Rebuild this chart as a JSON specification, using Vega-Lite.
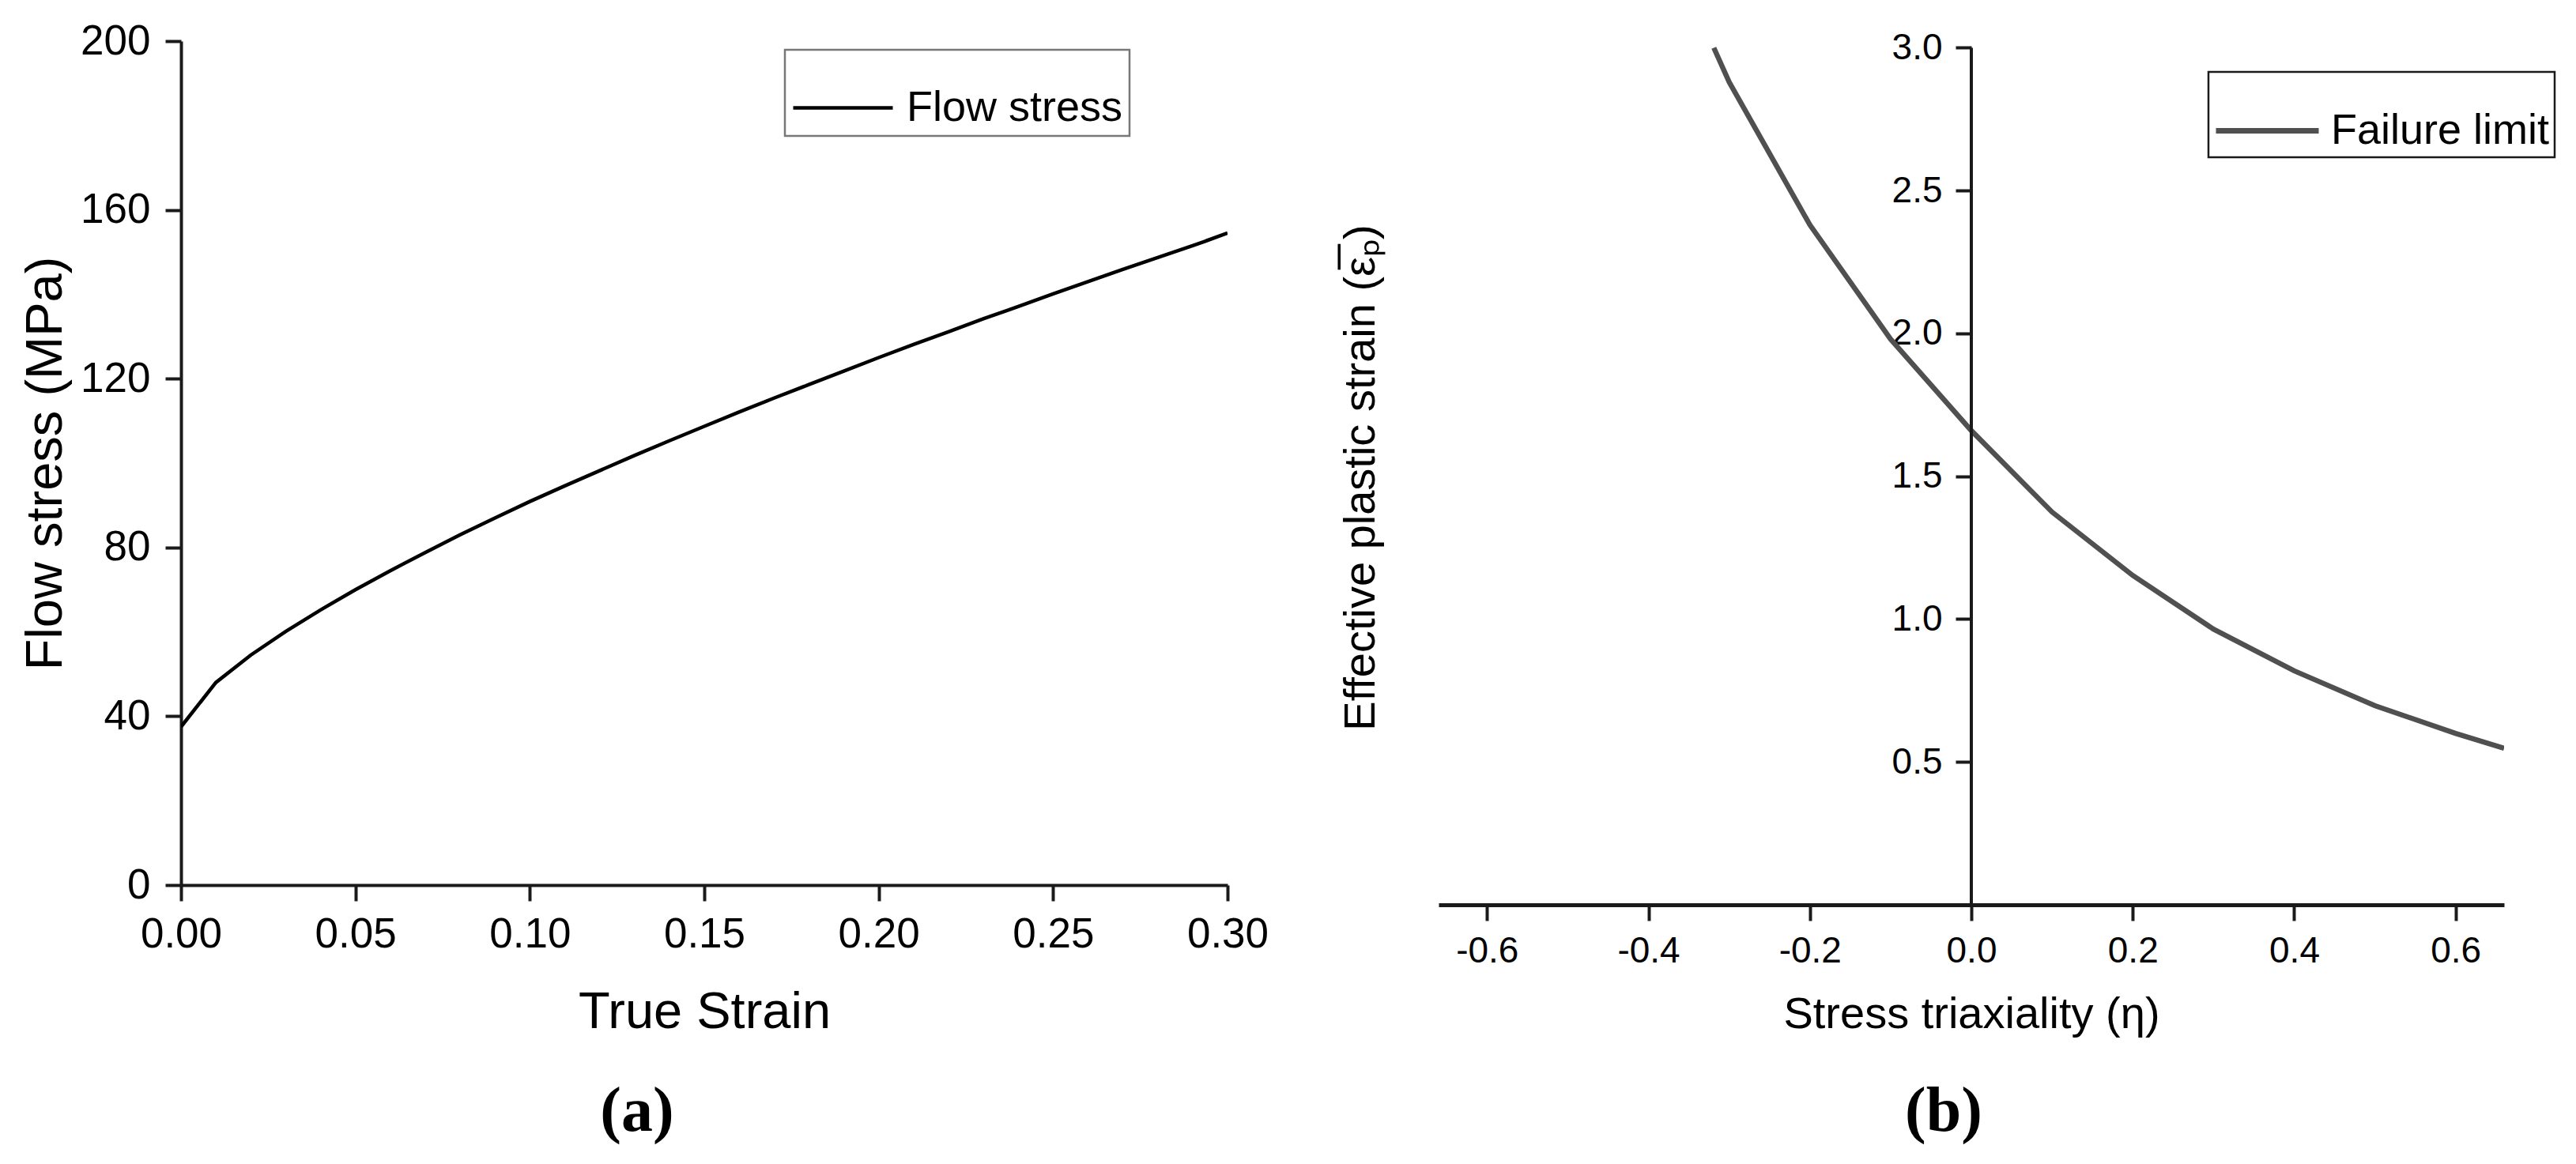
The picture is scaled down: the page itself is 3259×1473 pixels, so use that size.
{
  "$schema": "https://vega.github.io/schema/vega-lite/v6.json",
  "background": "white",
  "padding": {"left": 25, "top": 26, "right": 5, "bottom": 5},
  "config": {
    "view": {"stroke": null},
    "axis": {"grid": false, "labelFont": "Liberation Sans", "titleFont": "Liberation Sans", "labelColor": "#000", "titleColor": "#000", "titleFontWeight": "normal", "domainColor": "#1a1a1a", "tickColor": "#1a1a1a"},
    "legend": {"labelFont": "Liberation Sans", "labelColor": "#000", "labelLimit": 1000}
  },
  "datasets": {
    "flow": [
      {"strain": 0.00, "stress": 37.5, "series": "Flow stress"},
      {"strain": 0.01, "stress": 48.0, "series": "Flow stress"},
      {"strain": 0.02, "stress": 54.5, "series": "Flow stress"},
      {"strain": 0.03, "stress": 60.1, "series": "Flow stress"},
      {"strain": 0.04, "stress": 65.2, "series": "Flow stress"},
      {"strain": 0.05, "stress": 70.0, "series": "Flow stress"},
      {"strain": 0.06, "stress": 74.5, "series": "Flow stress"},
      {"strain": 0.07, "stress": 78.8, "series": "Flow stress"},
      {"strain": 0.08, "stress": 83.0, "series": "Flow stress"},
      {"strain": 0.09, "stress": 87.0, "series": "Flow stress"},
      {"strain": 0.10, "stress": 90.9, "series": "Flow stress"},
      {"strain": 0.11, "stress": 94.6, "series": "Flow stress"},
      {"strain": 0.12, "stress": 98.2, "series": "Flow stress"},
      {"strain": 0.13, "stress": 101.8, "series": "Flow stress"},
      {"strain": 0.14, "stress": 105.3, "series": "Flow stress"},
      {"strain": 0.15, "stress": 108.7, "series": "Flow stress"},
      {"strain": 0.16, "stress": 112.1, "series": "Flow stress"},
      {"strain": 0.17, "stress": 115.4, "series": "Flow stress"},
      {"strain": 0.18, "stress": 118.6, "series": "Flow stress"},
      {"strain": 0.19, "stress": 121.8, "series": "Flow stress"},
      {"strain": 0.20, "stress": 125.0, "series": "Flow stress"},
      {"strain": 0.21, "stress": 128.1, "series": "Flow stress"},
      {"strain": 0.22, "stress": 131.1, "series": "Flow stress"},
      {"strain": 0.23, "stress": 134.2, "series": "Flow stress"},
      {"strain": 0.24, "stress": 137.1, "series": "Flow stress"},
      {"strain": 0.25, "stress": 140.1, "series": "Flow stress"},
      {"strain": 0.26, "stress": 143.0, "series": "Flow stress"},
      {"strain": 0.27, "stress": 145.9, "series": "Flow stress"},
      {"strain": 0.28, "stress": 148.7, "series": "Flow stress"},
      {"strain": 0.29, "stress": 151.5, "series": "Flow stress"},
      {"strain": 0.30, "stress": 154.5, "series": "Flow stress"}
    ],
    "fail": [
      {"eta": -0.319, "strain": 3.0, "series": "Failure limit"},
      {"eta": -0.3, "strain": 2.88, "series": "Failure limit"},
      {"eta": -0.2, "strain": 2.38, "series": "Failure limit"},
      {"eta": -0.1, "strain": 1.98, "series": "Failure limit"},
      {"eta": 0.0, "strain": 1.66, "series": "Failure limit"},
      {"eta": 0.1, "strain": 1.375, "series": "Failure limit"},
      {"eta": 0.2, "strain": 1.153, "series": "Failure limit"},
      {"eta": 0.3, "strain": 0.965, "series": "Failure limit"},
      {"eta": 0.4, "strain": 0.819, "series": "Failure limit"},
      {"eta": 0.5, "strain": 0.697, "series": "Failure limit"},
      {"eta": 0.6, "strain": 0.6, "series": "Failure limit"},
      {"eta": 0.66, "strain": 0.548, "series": "Failure limit"}
    ]
  },
  "hconcat": [
    {
      "width": 1324,
      "height": 1068,
      "data": {"name": "flow"},
      "title": {"text": "(a)", "orient": "bottom", "anchor": "middle", "frame": "group", "font": "Liberation Serif", "fontSize": 80, "fontWeight": "bold", "color": "#000", "dx": -85, "offset": 55},
      "mark": {"type": "line", "strokeWidth": 4.5, "clip": true},
      "encoding": {
        "x": {
          "field": "strain", "type": "quantitative",
          "scale": {"domain": [0, 0.3], "nice": false, "zero": false},
          "axis": {"title": "True Strain", "values": [0, 0.05, 0.1, 0.15, 0.2, 0.25, 0.3], "format": ".2f", "labelFlush": false, "labelFontSize": 53, "labelPadding": 16, "tickSize": 20, "tickWidth": 4, "domainWidth": 4, "titleFontSize": 65, "titleX": 662, "titleY": 129}
        },
        "y": {
          "field": "stress", "type": "quantitative",
          "scale": {"domain": [0, 200], "nice": false},
          "axis": {"title": "Flow stress (MPa)", "values": [0, 40, 80, 120, 160, 200], "labelFontSize": 53, "labelPadding": 19, "tickSize": 20, "tickWidth": 4, "domainWidth": 4, "titleFontSize": 65, "titleX": -138, "titleY": 534}
        },
        "color": {
          "field": "series", "type": "nominal",
          "scale": {"range": ["#000000"]},
          "legend": {"orient": "none", "legendX": 764, "legendY": 11, "title": null, "symbolType": "stroke", "symbolSize": 15876, "symbolStrokeWidth": 4.5, "labelFontSize": 54, "labelOffset": 15, "labelLimit": 1000, "padding": 8, "strokeColor": "#777777", "fillColor": "white",
            "encode": {"legend": {"update": {"strokeWidth": {"value": 2.5}}}}}
        }
      }
    },
    {
      "width": 1348,
      "height": 1093,
      "title": {"text": "(b)", "orient": "bottom", "anchor": "middle", "frame": "group", "font": "Liberation Serif", "fontSize": 80, "fontWeight": "bold", "color": "#000", "dx": -35, "offset": 57},
      "layer": [
        {
          "data": {"name": "fail"},
          "mark": {"type": "line", "strokeWidth": 6.5, "clip": true},
          "encoding": {
            "x": {
              "field": "eta", "type": "quantitative",
              "scale": {"domain": [-0.66, 0.66], "nice": false, "zero": false},
              "axis": {"title": "Stress triaxiality (η)", "values": [-0.6, -0.4, -0.2, 0, 0.2, 0.4, 0.6], "labelExpr": "replace(format(datum.value, '.1f'), '\u2212', '-')", "labelFlush": false, "labelFontSize": 46, "labelPadding": 16, "tickSize": 20, "tickWidth": 4, "domainWidth": 5, "titleFontSize": 56, "titleX": 674, "titleY": 111}
            },
            "y": {
              "field": "strain", "type": "quantitative",
              "scale": {"domain": [0, 3.0235], "nice": false},
              "axis": {"title": "Effective plastic strain (ε̅ₚ)", "orient": "left", "offset": -674, "domain": false, "values": [0.5, 1, 1.5, 2, 2.5, 3], "format": ".1f", "labelFontSize": 46, "labelPadding": 17, "tickSize": 20, "tickWidth": 4, "titleFontSize": 56, "titleX": -744, "titleY": 552}
            },
            "color": {
              "field": "series", "type": "nominal",
              "scale": {"range": ["#505050"]},
              "legend": {"orient": "none", "legendX": 974, "legendY": 39, "title": null, "symbolType": "stroke", "symbolSize": 16900, "symbolStrokeWidth": 7, "labelFontSize": 54, "labelOffset": 12, "labelLimit": 1000, "padding": 6, "strokeColor": "#1a1a1a", "fillColor": "white",
                "encode": {"legend": {"update": {"strokeWidth": {"value": 2.5}}}}}
            }
          }
        },
        {
          "data": {"values": [{}]},
          "mark": {"type": "rule", "strokeWidth": 4, "color": "#1a1a1a"},
          "encoding": {
            "x": {"datum": 0},
            "y": {"datum": 0},
            "y2": {"datum": 3}
          }
        }
      ]
    }
  ],
  "spacing": 267,
  "bounds": "flush",
  "resolve": {"scale": {"color": "independent"}}
}
